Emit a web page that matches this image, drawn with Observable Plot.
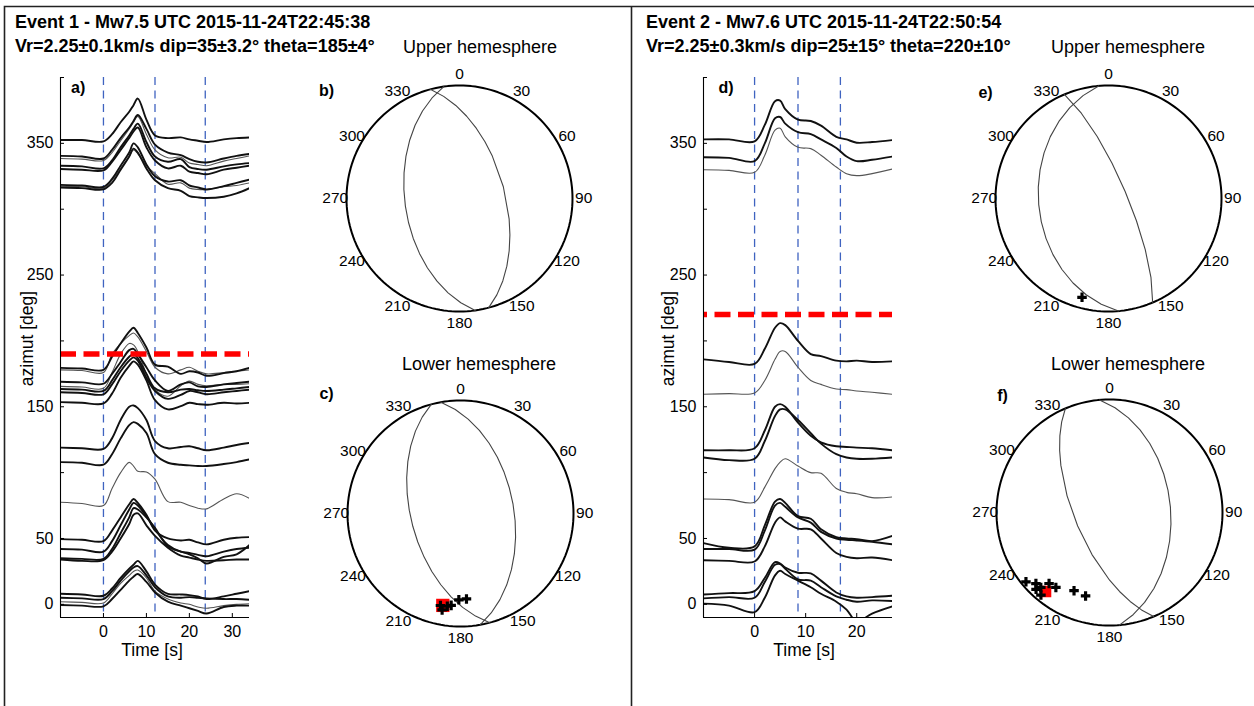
<!DOCTYPE html>
<html>
<head>
<meta charset="utf-8">
<script src="https://cdn.jsdelivr.net/npm/d3@7"></script>
<script src="https://cdn.jsdelivr.net/npm/@observablehq/plot@0.6"></script>
<style>
html,body{margin:0;padding:0;background:#fff;overflow:hidden;}
#page{position:relative;width:1254px;height:706px;overflow:hidden;background:#fff;font-family:"Liberation Sans",Arial,sans-serif;}
#page svg{position:absolute;}
</style>
</head>
<body>
<div id="page"></div>
<script>
// ---------------- DATA ----------------
const event1Title = "Event 1 - Mw7.5 UTC 2015-11-24T22:45:38";
const event1Sub = "Vr=2.25±0.1km/s dip=35±3.2° theta=185±4°";
const event2Title = "Event 2 - Mw7.6 UTC 2015-11-24T22:50:54";
const event2Sub = "Vr=2.25±0.3km/s dip=25±15° theta=220±10°";
const upperLabel = "Upper hemesphere";
const lowerLabel = "Lower hemesphere";
const xLabel = "Time [s]";
const yLabel = "azimut [deg]";

const yTicks = [0, 50, 100, 150, 200, 250, 300, 350, 400];
const yTickLabels = [0, 50, 150, 250, 350];
const xTicks1 = [0, 10, 20, 30];
const xTicks2 = [0, 10, 20];
const timeDomain1 = [-10, 34];
const timeDomain2 = [-10, 27];
const azDomain = [-10, 400];

const stageLines1 = [0, 12, 23.7];   // blue dashed times, event 1
const stageLines2 = [0, 8.5, 16.8];  // blue dashed times, event 2
const theta1 = 190;                  // red dashed azimuth, event 1
const theta2 = 220;                  // red dashed azimuth, event 2

// Event 1 waveforms: samples at time1
const time1 = [-10, -5, 0, 2, 4, 6, 7, 8, 10, 12, 15, 18, 20, 22, 24, 28, 31, 34];
const A1 = [352.5,352.5,351.5,357,366,374,379,384,368,356,354,354.5,353,352,351,353,354,354.5];
const A2 = [340.5,340,338.5,345,354,362,367,371.5,361,349,343,341,338,336,335.5,338.5,340.5,342];
const A3 = [338.5,338,337,343,352,361,366,370.5,357,345,339,339.5,335,334,333,336.5,338.5,340.5];
const A4 = [333,332.5,331,337,347,356,361,365,351,340,336,338,332,330.5,330,332.5,334,335];
const A5 = [330.5,330,329.5,336,345,354,359,362,347,337,331,333,328.5,327.5,326.5,330,331.5,333];
const A6 = [318.5,318,317,323,333,343,350,347,334,325,321,322,318,316.5,315,317.5,320,322.5];
const A7 = [316.5,316,315,320,330,340,346,343,331,322,316,314,310,309,308.5,309.5,312,316];
const A8 = [317.5,317,316,322,331,340,345,342,333,327,319,320,316,315,315,317,318,320];
const B1 = [179.5,179,178,188,198,207,210,206,195,182,180.5,175,177,176,173.5,175.5,177,179.5];
const B2 = [178,177.5,176,190,198,204,206,203,192,180,175,178,180,177,175,176,177,178];
const B3 = [169,168.5,167.5,175,184,193,194,190,180,170,162,167,168.5,165.5,165,167,168,169];
const B4 = [165.5,165,164,176,190,198,197,192,175,163,158,166,169.5,167,166,167,167,167.5];
const B5 = [163.5,163,162,170,180,188,190,187,175,164,161,163,163.5,162.5,162,163,164,165];
const B6 = [161,160.5,159.5,167,177,185,187.5,185,172,162,156,159,162,161,159.5,161,162,163];
const B7 = [153.5,153,152.5,160,172,181,184.5,182,170,155,148,150.5,153,152,151.5,153,152.5,153];
const C1 = [119,118.5,118,126,140,150,151,149,140,124,118.5,119.5,120,118.5,117,119,121,122.5];
const C2 = [108,107.5,106,114,126,136,138.3,137,130,114,107.5,106,105.5,105,105,106.5,108,110];
const C3 = [77.5,76.5,75,88,100,107.8,105,101,100.5,95,78,77.5,75,73,72.5,80,84,80.5];
const D1 = [49.5,49,48,56,66,76,80,77,68,56,50,48.5,49,47,45.5,49,50.5,51];
const D2 = [42,41.5,40,48,60,72,77,75,67,57,45,40,39,37.5,36.5,40,42,43];
const D3 = [35,34.5,34.5,42,54,66,73,72,66,58,44,40,38,35,31,36,38,45];
const D4 = [34,33,33.5,40,50,61,68,69,60,52,43,37,35.5,34,33,33.5,34,34];
const E1 = [8,7.5,6.5,12,20,27,30,33,25,15,8,7.5,7,6,4,6,8,10];
const E2 = [5,4.5,4,10,18,25,28,29,22,13,6,5,5.5,5,4.5,4,4,3.5];
const E3 = [2,1.5,1,8,16,22,25,26,20,10,4,1,0,-2,-3,-1,0,0.5];
const E4 = [-0.5,-1,-1.5,4,11,18,21,23,17,9,2,-1,-3,-5,-7,-2,-1,-1];
const traces1 = {A1,A2,A3,A4,A5,A6,A7,A8,B1,B2,B3,B4,B5,B6,B7,C1,C2,C3,D1,D2,D3,D4,E1,E2,E3,E4};
const thin1 = ["A3","A8","B2","B4","C3","E3"];

// Event 2 waveforms: samples at time2
const time2 = [-10, -5, 0, 2, 4, 5, 6, 8.5, 11, 13, 16, 18, 20, 23, 27];
const F1 = [353,353,351.5,364,382,382.5,376,368,367,363.5,355,353,350.5,351,352.5];
const F2 = [339.5,339,336.5,350,369,370,365,358.5,357,353,346.5,340,336.5,337.5,340];
const F3 = [330,329.5,328,341,360,361.5,355,347,346,341,332,327,325.5,327,330.5];
const G1 = [186,184,182.5,194,210,213.5,212,200,190,188.5,185,184.5,185,184,184.5];
const G2 = [159.5,160,160.5,170,186,192,192,180,170,167,163.5,163,162,161,159.5];
const H1 = [117,117,118.5,132,150,152,150,138,128,123,120,119.5,119,118.5,117];
const H2 = [111.5,109.5,110.5,124,143,148,148,140,130,122,114,111.5,110.5,110.5,111.5];
const H3 = [80,79.5,77.5,89,103,108,110.5,105,100,99.5,88,85,84,81,81.5];
const I1 = [46.5,43,44,60,78,80,77,67,65,57,51,50,49.5,48,52];
const I2 = [42,42,41.5,56,75,77,74,66,62,55,50,49,48.5,47.5,45.5];
const I3 = [33.5,33,32.5,44,62,66,63,57.5,57,50,39,36,35,35.5,33.5];
const J1 = [7.5,8.5,10,20,32,31,28,24,23.5,18,9,6,5,5.5,6.5];
const J2 = [4.5,5.5,5,17,30,30.5,27,19,18,13,6,3.5,2,3,2.5];
const J3 = [0.5,-1,-6,5,22,25.5,23,18,13,8,2,-4,-13,-7,-1.5];
const traces2 = {F1,F2,F3,G1,G2,H1,H2,H3,I1,I2,I3,J1,J2,J3};
const thin2 = ["F3","G2","H3"];

// Stereonets: nodal planes (strike, dip) and rupture directions (azimuth, plunge)
const azLabels = [0, 30, 60, 90, 120, 150, 180, 210, 240, 270, 300, 330];
const planesB = [{strike: 172, dip: 50}, {strike: 345, dip: 57}];
const planesC = [{strike: 165, dip: 54}, {strike: 350, dip: 51}];
const planesE = [{strike: 175, dip: 38}, {strike: 337, dip: 77}];
const planesF = [{strike: 157, dip: 65}, {strike: 355, dip: 45}];
const crossesB = [];
const crossesC = [[190.8,14.2],[188.1,18.2],[185.8,19.4],[181.1,24.6],[176,25.2],[192.3,17.8]];
const redC = [[190.9,18.3]];
const crossesE = [[195,10.4]];
const crossesF = [[230.3,4.4],[226,10.4],[222.5,11],[220.4,18.6],[215.6,19.6],[204.4,25],[196,24.2],[219.7,5.6],[223.7,6.6]];
const redF = [[219,11]];

// ---------------- LAYOUT / STYLE ----------------
const FONT = "Liberation Sans, Arial, sans-serif";
const page = d3.select("#page");

// overlay: frame lines and titles
const ov = page.append("svg").attr("width", 1254).attr("height", 706).style("left", 0).style("top", 0);
ov.append("path").attr("d", "M4.5,706V6.5H1254M631.5,6.5V706").attr("fill", "none").attr("stroke", "#222").attr("stroke-width", 1.6);
function txt(s, x, y, opts = {}) {
  const t = ov.append("text").attr("x", x).attr("y", y).text(s)
    .attr("font-family", FONT).attr("font-size", opts.size || 18)
    .attr("font-weight", opts.bold ? "bold" : "normal")
    .attr("text-anchor", opts.anchor || "start").attr("fill", "#000");
  return t;
}
txt(event1Title, 15, 28, {bold: true});
txt(event1Sub, 15, 52, {bold: true});
txt(event2Title, 646, 28, {bold: true});
txt(event2Sub, 646, 52, {bold: true});
txt(upperLabel, 480, 53, {anchor: "middle"});
txt(lowerLabel, 479, 370, {anchor: "middle"});
txt(upperLabel, 1128, 53, {anchor: "middle"});
txt(lowerLabel, 1128, 370, {anchor: "middle"});

function longRows(times, traces) {
  const rows = [];
  for (const [id, vals] of Object.entries(traces)) vals.forEach((v, i) => rows.push({id, t: times[i], az: v}));
  return rows;
}

function wavePlot({left, top, width, height, ml, mr, mt, mb, times, traces, thin, xDomain, xTicks, stages, theta, dashOffset, letter, letterDx, xLabelDx, yLabelDx}) {
  const rows = longRows(times, traces);
  const isThin = (d) => thin.includes(d.id);
  const svg = Plot.plot({
    width, height, marginLeft: ml, marginRight: mr, marginTop: mt, marginBottom: mb,
    style: {background: "transparent", overflow: "visible", fontFamily: FONT, fontSize: "16px", color: "#000"},
    x: {domain: xDomain},
    y: {domain: azDomain},
    marks: [
      Plot.ruleX(stages, {stroke: "#3f63c0", strokeWidth: 1.3, strokeDasharray: "8,5.5"}),
      Plot.line(rows.filter(isThin), {x: "t", y: "az", z: "id", stroke: "#555", strokeWidth: 1.1, curve: "catmull-rom", clip: true}),
      Plot.line(rows.filter((d) => !isThin(d)), {x: "t", y: "az", z: "id", stroke: "#111", strokeWidth: 1.9, curve: "catmull-rom", clip: true}),
      Plot.ruleY([theta], {stroke: "#ff0000", strokeWidth: 5.5, strokeDasharray: "16,7.5", strokeDashoffset: dashOffset}),
      Plot.ruleX([xDomain[0]], {stroke: "#000", strokeWidth: 1.1}),
      Plot.ruleY([azDomain[0]], {stroke: "#000", strokeWidth: 1.1}),
      Plot.axisY({ticks: yTicks, tickSize: -4, tickPadding: 11, fontSize: 16, label: null,
        tickFormat: (d) => (yTickLabels.includes(d) ? String(d) : "")}),
      Plot.axisX({ticks: xTicks, tickSize: -4, tickPadding: 12.6, fontSize: 16, label: null, tickFormat: (d) => String(d)}),
      Plot.text([xLabel], {frameAnchor: "bottom", dx: xLabelDx, dy: 26.5, lineAnchor: "top", textAnchor: "middle", fontSize: 17.5}),
      Plot.text([yLabel], {frameAnchor: "left", rotate: -90, dx: yLabelDx, dy: -9, textAnchor: "middle", lineAnchor: "middle", fontSize: 17.5}),
      Plot.text([letter], {frameAnchor: "top-left", dx: letterDx, dy: 10, textAnchor: "start", lineAnchor: "middle", fontWeight: "bold", fontSize: 16})
    ]
  });
  svg.style.left = left + "px";
  svg.style.top = top + "px";
  page.node().appendChild(svg);
}

wavePlot({left: 0, top: 60, width: 270, height: 620, ml: 60, mr: 21, mt: 17, mb: 63,
  times: time1, traces: traces1, thin: thin1, xDomain: timeDomain1, xTicks: xTicks1,
  stages: stageLines1, theta: theta1, dashOffset: 0, letter: "a)", letterDx: 10.5, xLabelDx: -3, yLabelDx: -33.5});
wavePlot({left: 640, top: 60, width: 270, height: 620, ml: 63, mr: 18, mt: 17, mb: 63,
  times: time2, traces: traces2, thin: thin2, xDomain: timeDomain2, xTicks: xTicks2,
  stages: stageLines2, theta: theta2, dashOffset: 12, letter: "d)", letterDx: 15, xLabelDx: 6, yLabelDx: -35});

const R = 113;          // stereonet radius in px
const labelLat = -12;   // label ring just outside the primitive circle
function stereoPlot({cx, cy, planes, crosses, reds, redR, letter, lx, ly}) {
  const W = 300, H = 290;
  const outline = d3.geoCircle().center([0, 90]).radius(90)();
  const planeGeo = planes.map((p) => ({type: "LineString",
    coordinates: [[p.strike, 0], [p.strike + 90, p.dip], [p.strike + 180, 0]]}));
  const projection = () => d3.geoAzimuthalEqualArea().reflectX(true).rotate([180, -90])
    .scale(R / Math.SQRT2).translate([W / 2, H / 2]);
  const svg = Plot.plot({
    width: W, height: H, margin: 0,
    projection,
    style: {background: "transparent", overflow: "visible", fontFamily: FONT, fontSize: "15.5px", color: "#000"},
    marks: [
      Plot.geo(outline, {stroke: "#000", strokeWidth: 2, fill: "none"}),
      Plot.geo(planeGeo, {stroke: "#444", strokeWidth: 1.1, fill: "none"}),
      Plot.dot(reds, {x: (d) => d[0], y: (d) => d[1], symbol: "square", fill: "#ff0000", r: redR}),
      Plot.dot(crosses, {x: (d) => d[0], y: (d) => d[1], symbol: "cross", fill: "#000", r: 4}),
      Plot.text(azLabels, {x: (d) => d, y: () => labelLat, text: (d) => String(d), fontSize: 15.5}),
      Plot.text([letter], {frameAnchor: "top-left", dx: lx, dy: ly, textAnchor: "middle", lineAnchor: "middle", fontWeight: "bold", fontSize: 16})
    ]
  });
  svg.style.left = (cx - W / 2) + "px";
  svg.style.top = (cy - H / 2) + "px";
  page.node().appendChild(svg);
}

stereoPlot({cx: 459, cy: 198, planes: planesB, crosses: crossesB, reds: [], redR: 7, letter: "b)", lx: 17, ly: 37});
stereoPlot({cx: 460, cy: 513, planes: planesC, crosses: crossesC, reds: redC, redR: 7.5, letter: "c)", lx: 16, ly: 25});
stereoPlot({cx: 1108, cy: 198, planes: planesE, crosses: crossesE, reds: [], redR: 7, letter: "e)", lx: 27, ly: 39});
stereoPlot({cx: 1109, cy: 512, planes: planesF, crosses: crossesF, reds: redF, redR: 6.5, letter: "f)", lx: 43, ly: 28});
</script>
</body>
</html>
